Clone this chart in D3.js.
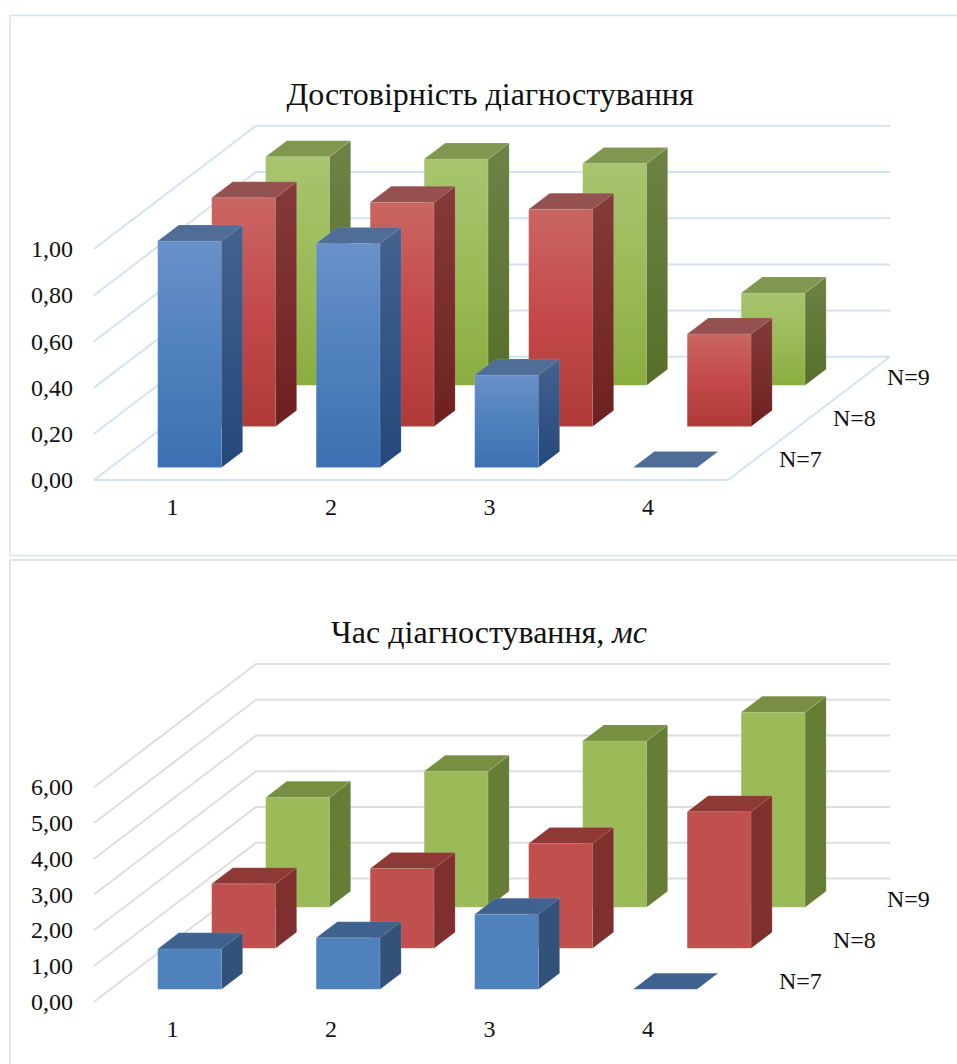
<!DOCTYPE html>
<html>
<head>
<meta charset="utf-8">
<script src="https://cdn.jsdelivr.net/npm/d3@7"></script>
<style>
  html, body { margin: 0; padding: 0; background: #fff; }
  svg { display: block; }
  text { font-family: "Liberation Serif", "Times New Roman", serif; fill: #111; }
</style>
</head>
<body>
<svg id="root" width="957" height="1064"></svg>
<script>
// Categories and depth series shared by both panels
const categories = ["1", "2", "3", "4"];
const seriesNames = ["N=7", "N=8", "N=9"];

// Diagnostic reliability
const reliabilityN7 = [0.98, 0.97, 0.40, 0.00];
const reliabilityN8 = [0.99, 0.97, 0.94, 0.40];
const reliabilityN9 = [0.99, 0.98, 0.96, 0.40];
const reliabilityTicks = [0, 0.2, 0.4, 0.6, 0.8, 1.0];

// Diagnostic time, ms
const timeN7 = [1.13, 1.44, 2.10, 0.00];
const timeN8 = [1.80, 2.23, 2.93, 3.82];
const timeN9 = [3.07, 3.80, 4.65, 5.45];
const timeTicks = [0, 1, 2, 3, 4, 5, 6];

const svg = d3.select("#root");
const defs = svg.append("defs");

// Face colours per series: front top/mid/bottom, side top/bottom, cap
const shaded = [
  { front: ["#6a91c9", "#4f81bd", "#3b70b2"], side: ["#43638f", "#24487a"], cap: "#4f6d96" },
  { front: ["#c96662", "#c4494a", "#b03a37"], side: ["#843b3a", "#6e2020"], cap: "#955150" },
  { front: ["#a7c56e", "#9bbb59", "#8aad3f"], side: ["#6e8244", "#566f2a"], cap: "#81974f" }
];
const flat = [
  { front: ["#4f81bd"], side: ["#32527a"], cap: "#3e638f" },
  { front: ["#c0504d"], side: ["#7f302e"], cap: "#8f3937" },
  { front: ["#9bbb59"], side: ["#677c35"], cap: "#788f41" }
];

function addGradient(id, stops) {
  const g = defs.append("linearGradient").attr("id", id)
    .attr("x1", 0).attr("y1", 0).attr("x2", 0).attr("y2", 1);
  stops.forEach((c, i) => g.append("stop")
    .attr("offset", stops.length > 1 ? i / (stops.length - 1) : 0)
    .attr("stop-color", c));
  return `url(#${id})`;
}

function drawPanel(cfg) {
  const panel = svg.append("g");

  // Outer frame: open on the right, as the chart area runs past the page edge
  panel.append("path")
    .attr("d", `M957,${cfg.frame[0]}H10V${cfg.frame[1]}${cfg.frameBottom ? "H957" : ""}`)
    .attr("fill", "none").attr("stroke", cfg.frameColor).attr("stroke-width", 1.5);

  // Projection of the 3-D box: x along categories, d along depth, v up the wall
  const x = d3.scaleLinear().domain([0, categories.length]).range([94, 728]);
  const dX = d3.scaleLinear().domain([0, seriesNames.length]).range([0, 162]);
  const dY = d3.scaleLinear().domain([0, seriesNames.length]).range([0, -123.2]);
  const y = d3.scaleLinear().domain(d3.extent(cfg.ticks)).range([cfg.floorY, cfg.floorY - cfg.wallHeight]);
  const pt = (xv, d, v) => [x(xv) + dX(d), y(v) + dY(d)];
  const line = d3.line();

  // Gridlines over the left wall and back wall
  const grid = panel.append("g").attr("fill", "none")
    .attr("stroke", cfg.gridColor).attr("stroke-width", 2);
  grid.selectAll("path.wall").data(cfg.ticks).join("path")
    .attr("class", "wall")
    .attr("d", t => line([pt(0, 0, t), pt(0, 3, t), pt(4, 3, t)]));
  if (cfg.floorOutline) {
    grid.append("path").attr("d", line([pt(0, 0, 0), pt(4, 0, 0), pt(4, 3, 0)]));
  }

  // Bars, back row first so nearer rows overlap
  const barOffset = 0.298, barWidth = 0.403, rowOffset = 0.305, rowDepth = 0.39;
  cfg.series.map((values, s) => ({ values, s })).reverse().forEach(({ values, s }) => {
    const pal = cfg.palette[s];
    const frontFill = addGradient(`${cfg.id}-front-${s}`, pal.front);
    const sideFill = addGradient(`${cfg.id}-side-${s}`, pal.side);
    const row = panel.append("g");
    const bar = row.selectAll("g").data(values).join("g");
    const d0 = s + rowOffset, d1 = d0 + rowDepth;
    const x0 = i => i + barOffset, x1 = i => i + barOffset + barWidth;

    bar.filter(v => v > 0).append("path")
      .attr("d", (v, i) => line([pt(x0(i), d0, 0), pt(x1(i), d0, 0), pt(x1(i), d0, v), pt(x0(i), d0, v)]) + "Z")
      .attr("fill", frontFill);
    bar.filter(v => v > 0).append("path")
      .attr("d", (v, i) => line([pt(x1(i), d0, 0), pt(x1(i), d1, 0), pt(x1(i), d1, v), pt(x1(i), d0, v)]) + "Z")
      .attr("fill", sideFill);
    bar.append("path")
      .attr("d", (v, i) => line([pt(x0(i), d0, v), pt(x1(i), d0, v), pt(x1(i), d1, v), pt(x0(i), d1, v)]) + "Z")
      .attr("fill", pal.cap);
    // Faint light edge around every face
    bar.selectAll("path")
      .attr("stroke", "#fff").attr("stroke-opacity", 0.1).attr("stroke-width", 1);
  });

  // Title
  const title = panel.append("text")
    .attr("x", cfg.titleX).attr("y", cfg.titleY)
    .attr("text-anchor", "middle").attr("font-size", 32);
  title.append("tspan").text(cfg.title);
  if (cfg.titleItalic) title.append("tspan").attr("font-style", "italic").text(cfg.titleItalic);

  // Value axis along the front edge of the left wall
  const axis = panel.append("g")
    .attr("transform", "translate(79,0)")
    .call(d3.axisLeft(y).tickValues(cfg.ticks).tickSize(0).tickPadding(6)
      .tickFormat(v => d3.format(".2f")(v).replace(".", ",")));
  axis.select(".domain").remove();
  axis.selectAll("text")
    .attr("font-size", 24).attr("dy", "0.32em")
    .attr("font-family", '"Liberation Serif", serif').attr("fill", "#111");

  // Category labels under the front edge
  panel.append("g").selectAll("text").data(categories).join("text")
    .attr("x", (c, i) => x(i + 0.5) - 0.8)
    .attr("y", cfg.floorY + 35)
    .attr("text-anchor", "middle").attr("font-size", 24)
    .text(c => c);

  // Series labels stepping back along the depth axis
  panel.append("g").selectAll("text").data(seriesNames).join("text")
    .attr("x", (n, s) => pt(4, s + 0.5, 0)[0] + 24)
    .attr("y", (n, s) => pt(4, s + 0.5, 0)[1] + 8)
    .attr("font-size", 24)
    .text(n => n);
}

drawPanel({
  id: "reliability",
  title: "Достовірність діагностування",
  titleX: 490, titleY: 105,
  frame: [15.5, 555.5], frameBottom: true, frameColor: "#d6e3f5",
  gridColor: "#d5e2f4", floorOutline: true,
  floorY: 480, wallHeight: 231,
  ticks: reliabilityTicks,
  series: [reliabilityN7, reliabilityN8, reliabilityN9],
  palette: shaded
});

drawPanel({
  id: "time",
  title: "Час діагностування, ",
  titleItalic: "мс",
  titleX: 489, titleY: 643,
  frame: [560, 1064], frameBottom: false, frameColor: "#dcdcdc",
  gridColor: "#dedede", floorOutline: false,
  floorY: 1001.8, wallHeight: 214.5,
  ticks: timeTicks,
  series: [timeN7, timeN8, timeN9],
  palette: flat
});
</script>
</body>
</html>
